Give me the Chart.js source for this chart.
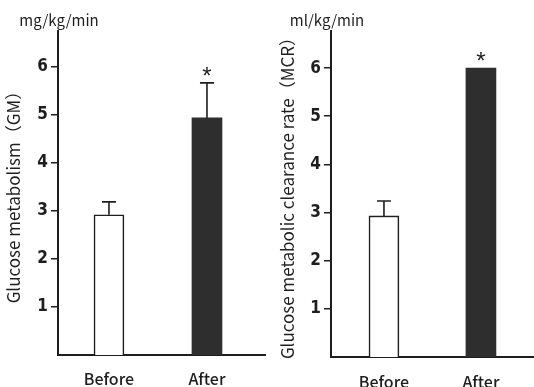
<!DOCTYPE html>
<html><head><meta charset="utf-8">
<script src="https://cdn.jsdelivr.net/npm/chart.js@4/dist/chart.umd.min.js"></script>
<style>
html,body{margin:0;padding:0;background:#fff;}
#wrap{display:flex;width:534px;height:387px;}
canvas{display:block;}
</style></head><body>
<div id="wrap"><canvas id="c1" width="267" height="387"></canvas><canvas id="c2" width="267" height="387"></canvas></div>
<script>
const categories = ['Before', 'After'];
const gmValues = [2.92, 4.94];
const gmErrors = [0.27, 0.73];
const mcrValues = [2.93, 6.00];
const mcrErrors = [0.31, 0];
const significant = [false, true];
const yTickValues = [1, 2, 3, 4, 5, 6];
const barColors = ['#ffffff', '#2e2e2e'];

const INK = '#1e1e1e';
const CJK = '"Noto Sans CJK JP", "Noto Sans", sans-serif';

const annot = {
  id: 'annot',
  afterDatasetsDraw(chart, args, opts) {
    const ctx = chart.ctx, xs = chart.scales.x, ys = chart.scales.y;
    ctx.save();
    ctx.strokeStyle = INK; ctx.fillStyle = INK; ctx.lineWidth = 1.6;
    opts.values.forEach((v, i) => {
      const e = opts.errors[i];
      const px = xs.getPixelForValue(i);
      let topVal = v;
      if (e > 0) {
        const y0 = ys.getPixelForValue(v), y1 = ys.getPixelForValue(v + e);
        ctx.beginPath();
        ctx.moveTo(px, y0); ctx.lineTo(px, y1);
        ctx.moveTo(px - 7, y1); ctx.lineTo(px + 7, y1);
        ctx.stroke();
        topVal = v + e;
      }
      if (opts.sig[i]) {
        ctx.font = '24px "Liberation Sans", sans-serif';
        ctx.textAlign = 'center'; ctx.textBaseline = 'alphabetic';
        ctx.fillText('*', px, ys.getPixelForValue(topVal) + 1);
      }
    });
    ctx.font = '15px ' + CJK;
    ctx.textAlign = 'center'; ctx.textBaseline = 'middle';
    ctx.fillText(opts.unit, ys.right + opts.unitShift, chart.chartArea.top - 11);
    ctx.restore();
  }
};

function makeChart(id, values, errors, unit, title, cfg) {
  return new Chart(document.getElementById(id), {
    type: 'bar',
    data: {
      datasets: [{
        data: values.map((v, i) => ({ x: i, y: v })),
        backgroundColor: barColors,
        borderColor: INK,
        borderWidth: [1.6, 0],
        barThickness: 30
      }]
    },
    options: {
      responsive: false,
      animation: false,
      layout: { padding: { top: 31, right: cfg.padRight, left: 0, bottom: 0 } },
      plugins: {
        legend: { display: false },
        tooltip: { enabled: false },
        annot: { values, errors, sig: significant, unit, unitShift: cfg.unitShift }
      },
      scales: {
        x: {
          type: 'linear',
          offset: false,
          bounds: 'data',
          min: cfg.xMin, max: cfg.xMax,
          afterDataLimits: s => { s.min = cfg.xMin; s.max = cfg.xMax; },
          afterBuildTicks: s => {
            s.ticks = categories.map((c, i) => ({ value: i }));
            s.min = cfg.xMin; s.max = cfg.xMax;
          },
          afterFit: s => { s.height = cfg.xHeight; },
          grid: { display: false, offset: false },
          border: { display: true, color: INK, width: 2 },
          ticks: {
            autoSkip: false, maxRotation: 0,
            padding: cfg.xPad,
            color: INK,
            font: { family: CJK, size: 16, weight: 500 },
            callback: v => categories[v]
          }
        },
        y: {
          min: 0, max: cfg.yMax,
          afterBuildTicks: s => { s.ticks = yTickValues.map(v => ({ value: v })); },
          afterFit: s => { s.width = cfg.yWidth; },
          grid: { display: true, drawOnChartArea: false, drawTicks: true, tickLength: 7, color: INK, lineWidth: 1.5 },
          border: { display: true, color: INK, width: 2 },
          ticks: {
            padding: 3, color: INK,
            font: { family: '"Liberation Sans Narrow", "DejaVu Sans Condensed", "Liberation Sans", sans-serif', size: 17, weight: 'bold' }
          },
          title: {
            display: true, text: title, color: INK,
            font: { family: CJK, size: 17 },
            padding: { top: cfg.titlePad, bottom: 0 }
          }
        }
      }
    },
    plugins: [annot]
  });
}

makeChart('c1', gmValues, gmErrors, 'mg/kg/min', 'Glucose metabolism（GM）',
  { padRight: 2, xMin: -0.52, xMax: 1.592, xHeight: 32, xPad: 6, yMax: 6.75, yWidth: 58, titlePad: 3, unitShift: 1 });
makeChart('c2', mcrValues, mcrErrors, 'ml/kg/min', 'Glucose metabolic clearance rate（MCR）',
  { padRight: 0, xMin: -0.546, xMax: 1.547, xHeight: 30, xPad: 7, yMax: 6.77, yWidth: 64, titlePad: 10, unitShift: -4 });
</script>
</body></html>
